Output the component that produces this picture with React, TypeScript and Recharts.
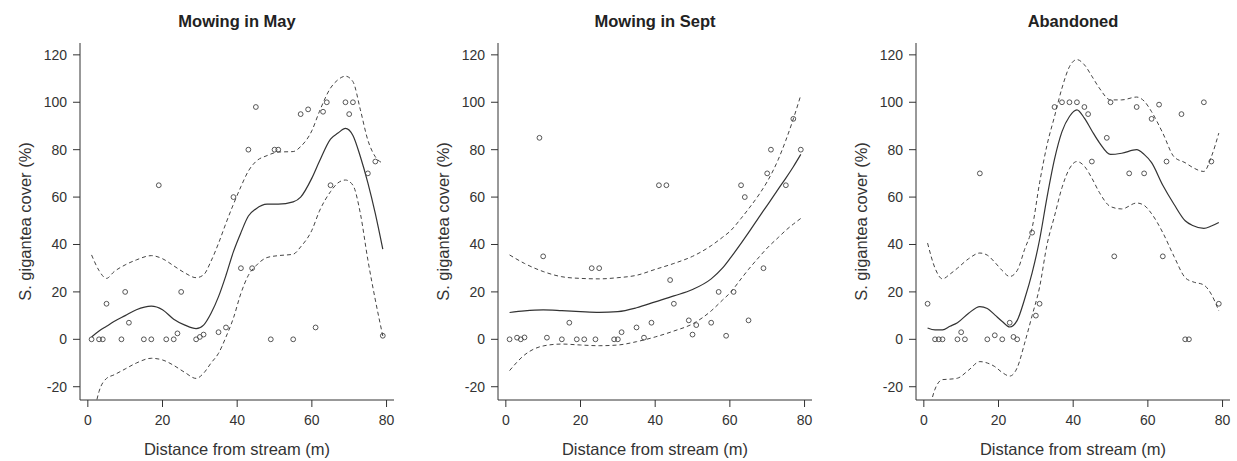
import { ComposedChart, Line, Scatter, XAxis, YAxis } from 'recharts';

const FONT = '"Liberation Sans", Arial, Helvetica, sans-serif';

const xTicks = [0, 20, 40, 60, 80];
const yTicks = [-20, 0, 20, 40, 60, 80, 100, 120];

// Mowing in May
const mayX = [1, 3, 4, 5, 9, 10, 11, 15, 17, 19, 21, 23, 24, 25, 29, 30, 31, 35, 37, 39, 41, 43, 44, 45, 49, 50, 51, 55, 57, 59, 61, 63, 64, 65, 69, 70, 71, 75, 77, 79];
const mayY = [0, 0, 0, 15, 0, 20, 7, 0, 0, 65, 0, 0, 2.5, 20, 0, 1, 2, 3, 5, 60, 30, 80, 30, 98, 0, 80, 80, 0, 95, 97, 5, 96, 100, 65, 100, 95, 100, 70, 75, 1.5];
const mayFitX = [1, 3, 5, 7, 10, 13, 17, 20, 23, 26, 29, 31, 33, 35, 37, 39, 41, 43, 45, 48, 51, 55, 57, 60, 62, 65, 67, 69, 71, 73, 75, 77, 79];
const mayFit = [1, 3.5, 5.5, 7.5, 10, 12.5, 14, 12.5, 8.5, 6, 4.5, 6, 11, 18, 27, 37, 45, 52, 55, 57, 57, 58, 60, 68, 75, 84.5, 87, 89, 86, 77, 66, 53, 38];
const mayUpper = [35.6, 29, 25.7, 28.5, 31.4, 33.5, 35.3, 34, 31, 28, 26, 27.2, 33, 40.5, 49, 57, 64.4, 71, 75, 77.5, 79, 79.2, 81.3, 88, 96, 106, 109.5, 111, 108.7, 96.8, 84, 77, 74.3];
const mayLower = [-37, -22, -16.5, -15, -12.5, -10, -8, -8.7, -11, -14, -16.5, -14.3, -10, -5.9, 1, 9, 19.4, 27, 31, 34.5, 35.3, 35.9, 39, 46, 54, 62.3, 66, 67.2, 65, 53, 33.5, 16.6, 1.4];

// Mowing in Sept
const septX = [1, 3, 4, 5, 9, 10, 11, 15, 17, 19, 21, 23, 24, 25, 29, 30, 31, 35, 37, 39, 41, 43, 44, 45, 49, 50, 51, 55, 57, 59, 61, 63, 64, 65, 69, 70, 71, 75, 77, 79];
const septY = [0, 0.7, 0, 0.8, 85, 35, 0.7, 0, 7, 0, 0, 30, 0, 30, 0, 0, 3, 5, 0.7, 7, 65, 65, 25, 15, 8, 2, 6, 7, 20, 1.5, 20, 65, 60, 8, 30, 70, 80, 65, 93, 80];
const septFitX = [1, 5, 10, 15, 20, 25, 30, 35, 40, 45, 50, 55, 58, 60, 63, 65, 68, 70, 73, 75, 77, 79];
const septFit = [11.3, 12, 12.4, 12.1, 11.7, 11.4, 11.7, 13.3, 15.8, 18.3, 21, 25.5, 30, 34, 40.5, 45, 52, 56.5, 63.5, 68, 72.8, 78];
const septUpper = [35.6, 32, 28.6, 26.4, 25.7, 25.5, 26, 27, 29.5, 32, 35, 39.5, 43, 45.5, 51, 55, 61.5, 66.5, 76, 84, 93, 103];
const septLower = [-13.2, -6.6, -2.8, -2, -2.4, -2.7, -2.4, -1, 1, 3.5, 6.5, 12, 16.5, 19.5, 25.5, 29.5, 35, 38.5, 43, 46, 48.6, 51];

// Abandoned
const abX = [1, 3, 4, 5, 9, 10, 11, 15, 17, 19, 21, 23, 24, 25, 29, 30, 31, 35, 37, 39, 41, 43, 44, 45, 49, 50, 51, 55, 57, 59, 61, 63, 64, 65, 69, 70, 71, 75, 77, 79];
const abY = [15, 0, 0, 0, 0, 3, 0, 70, 0, 1.7, 0, 7, 1, 0, 45, 10, 15, 98, 100, 100, 100, 98, 95, 75, 85, 100, 35, 70, 98, 70, 93, 99, 35, 75, 95, 0, 0, 100, 75, 15];
const abFitX = [1, 3, 5, 7, 9, 12, 15, 17, 19, 21, 23, 25, 27, 29, 31, 33, 35, 37, 39, 41, 43, 45, 47, 50, 53, 57, 59, 61, 64, 67, 70, 72, 75, 77, 79];
const abFit = [4.8, 4, 4, 5.5, 7, 11, 13.8, 13, 10.3, 7.5, 5.2, 8, 17, 28, 42, 60, 76, 87.6, 94, 96.8, 93.3, 88, 83, 78, 78.5, 80, 78, 74.5, 65, 57, 50, 48, 46.8, 47.8, 49.3];
const abUpper = [40.6, 30, 25.5, 27.5, 30, 34, 36.4, 35.5, 32.5, 29, 26.5, 29, 38, 47, 66, 82, 94, 106, 115, 118, 115.8, 111, 106, 101, 101, 102.2, 100.5, 96, 87, 77, 74.5, 72.5, 70.8, 77, 87];
const abLower = [-33, -21, -17, -16.8, -16.4, -13, -9.4, -10, -11.5, -14, -15.5, -12, -1.6, 10, 22, 40, 52, 64, 72, 75, 73, 68, 62, 56, 55, 57.5, 56.5, 53, 45, 35, 26, 24.3, 22.9, 19, 12];

const tickStyle = { fontSize: 14, fill: '#333', fontFamily: FONT };

function OpenCircle(props: any) {
  const { cx, cy } = props;
  if (cx == null || cy == null) return null;
  return <circle cx={cx} cy={cy} r={2.4} fill="none" stroke="#444" strokeWidth={0.9} />;
}

interface PanelProps {
  title: string;
  px: number[];
  py: number[];
  fx: number[];
  fit: number[];
  up: number[];
  lo: number[];
  left: number;
}

function Panel({ title, px, py, fx, fit, up, lo, left }: PanelProps) {
  const points = px.map((x, i) => ({ x, y: py[i] }));
  const curves = fx.map((x, i) => ({ x, fit: fit[i], up: up[i], lo: lo[i] }));

  return (
    <div style={{ position: 'absolute', left, top: 0, width: 418, height: 461 }}>
      <div
        style={{
          position: 'absolute',
          left: 80,
          width: 314,
          top: 10,
          textAlign: 'center',
          fontFamily: FONT,
          fontWeight: 'bold',
          fontSize: 16.5,
          color: '#222',
          lineHeight: '22px',
        }}
      >
        {title}
      </div>
      <ComposedChart width={418} height={461} margin={{ top: 43, right: 24, bottom: 0, left: 0 }}>
        <XAxis
          type="number"
          dataKey="x"
          domain={[-2.1, 82]}
          ticks={xTicks}
          allowDataOverflow
          height={61}
          tickSize={7}
          tickMargin={8}
          stroke="#333"
          tick={tickStyle}
          label={{
            value: 'Distance from stream (m)',
            position: 'insideBottom',
            offset: 6,
            style: { fontSize: 16.5, fill: '#333', fontFamily: FONT },
          }}
        />
        <YAxis
          type="number"
          dataKey="y"
          domain={[-25.6, 125]}
          ticks={yTicks}
          allowDataOverflow
          width={80}
          tickSize={7}
          tickMargin={6}
          stroke="#333"
          tick={tickStyle}
          label={{
            value: 'S. gigantea cover (%)',
            angle: -90,
            position: 'insideLeft',
            offset: 25,
            style: { fontSize: 16.5, fill: '#333', fontFamily: FONT, textAnchor: 'middle' },
          }}
        />
        <Line data={curves} dataKey="up" type="monotone" stroke="#444" strokeWidth={1} strokeDasharray="4 3" dot={false} isAnimationActive={false} />
        <Line data={curves} dataKey="lo" type="monotone" stroke="#444" strokeWidth={1} strokeDasharray="4 3" dot={false} isAnimationActive={false} />
        <Line data={curves} dataKey="fit" type="monotone" stroke="#333" strokeWidth={1.2} dot={false} isAnimationActive={false} />
        <Scatter data={points} dataKey="y" shape={OpenCircle} isAnimationActive={false} />
      </ComposedChart>
    </div>
  );
}

export default function App() {
  return (
    <div style={{ position: 'absolute', left: 0, top: 0, width: 1237, height: 461, background: '#fff' }}>
      <Panel title="Mowing in May" px={mayX} py={mayY} fx={mayFitX} fit={mayFit} up={mayUpper} lo={mayLower} left={0} />
      <Panel title="Mowing in Sept" px={septX} py={septY} fx={septFitX} fit={septFit} up={septUpper} lo={septLower} left={418} />
      <Panel title="Abandoned" px={abX} py={abY} fx={abFitX} fit={abFit} up={abUpper} lo={abLower} left={836} />
    </div>
  );
}
